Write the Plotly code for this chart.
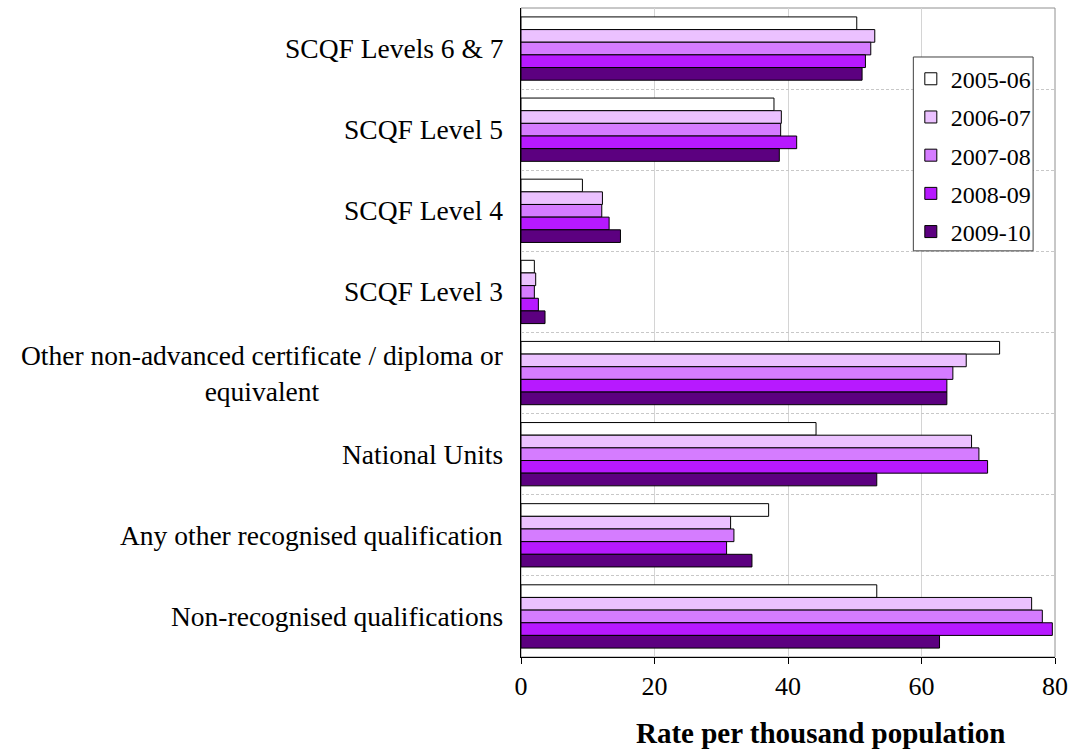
import plotly.graph_objects as go

categories = [
    "SCQF Levels 6 & 7",
    "SCQF Level 5",
    "SCQF Level 4",
    "SCQF Level 3",
    "Other non-advanced certificate / diploma or<br>equivalent",
    "National Units",
    "Any other recognised qualification",
    "Non-recognised qualifications",
]

years = ["2005-06", "2006-07", "2007-08", "2008-09", "2009-10"]

rate_2005_06 = [50.3, 37.9, 9.2, 2.0, 71.7, 44.2, 37.1, 53.3]
rate_2006_07 = [53.0, 39.0, 12.2, 2.2, 66.7, 67.5, 31.4, 76.5]
rate_2007_08 = [52.4, 38.9, 12.1, 2.0, 64.7, 68.6, 31.9, 78.1]
rate_2008_09 = [51.6, 41.3, 13.2, 2.6, 63.8, 69.9, 30.8, 79.6]
rate_2009_10 = [51.1, 38.7, 14.9, 3.6, 63.8, 53.3, 34.6, 62.7]

series = [rate_2005_06, rate_2006_07, rate_2007_08, rate_2008_09, rate_2009_10]
colors = ["#FFFFFF", "#EBC1FF", "#D57CFF", "#B719FF", "#5C0080"]

x_ticks = [0, 20, 40, 60, 80]
x_title = "Rate per thousand population"

FONT = "Liberation Serif"

fig = go.Figure()
for name, vals, col in zip(years, series, colors):
    fig.add_trace(go.Bar(
        y=categories, x=vals, name=name, orientation="h",
        marker=dict(color=col, line=dict(color="#000000", width=1)),
        legendgroup=name,
    ))

# category labels, centred multi-line text right-aligned to the axis
for cat in categories:
    fig.add_annotation(
        x=0, xref="paper", y=cat, yref="y", text=cat, showarrow=False,
        xanchor="right", yanchor="middle", align="center", xshift=-16,
        font=dict(family=FONT, size=27.5, color="#000000"),
    )

# x-axis title
fig.add_annotation(
    x=0.56, xref="paper", y=0, yref="paper", yshift=-76,
    text=f"<b>{x_title}</b>", showarrow=False,
    xanchor="center", yanchor="middle",
    font=dict(family=FONT, size=29, color="#000000"),
)

# light frame around the plotting area
fig.add_shape(type="rect", xref="paper", yref="paper", x0=0, x1=1, y0=0, y1=1,
              line=dict(color="#909090", width=1), layer="below")

# legend box
fig.add_shape(type="rect", xref="paper", yref="paper",
              x0=0.7347, x1=0.959, y0=0.6258, y1=0.9245,
              line=dict(color="#404040", width=1), fillcolor="white", layer="above")

fig.update_layout(
    width=1076, height=749,
    margin=dict(l=521, r=16, t=8, b=92),
    paper_bgcolor="white", plot_bgcolor="white",
    barmode="group", bargap=0.22, bargroupgap=0,
    font=dict(family=FONT, size=24, color="#000000"),
    legend=dict(
        x=0.73, y=0.925, xanchor="left", yanchor="top",
        bgcolor="rgba(0,0,0,0)", borderwidth=0,
        font=dict(family=FONT, size=24), tracegroupgap=4,
        itemwidth=30,
    ),
    xaxis=dict(
        range=[0, 80], tickvals=x_ticks, ticktext=[str(v) for v in x_ticks],
        showgrid=True, gridcolor="#D4D4D4", gridwidth=1,
        showline=True, linecolor="#000000", linewidth=1,
        ticks="outside", ticklen=6, tickcolor="#000000",
        tickfont=dict(family=FONT, size=26), zeroline=False,
    ),
    yaxis=dict(
        autorange="reversed", showticklabels=False, tickson="boundaries",
        showgrid=True, gridcolor="#C8C8C8", griddash="3px,2px", gridwidth=1,
        showline=True, linecolor="#000000", linewidth=1, ticks="",
    ),
)

fig.write_html("out.html")
